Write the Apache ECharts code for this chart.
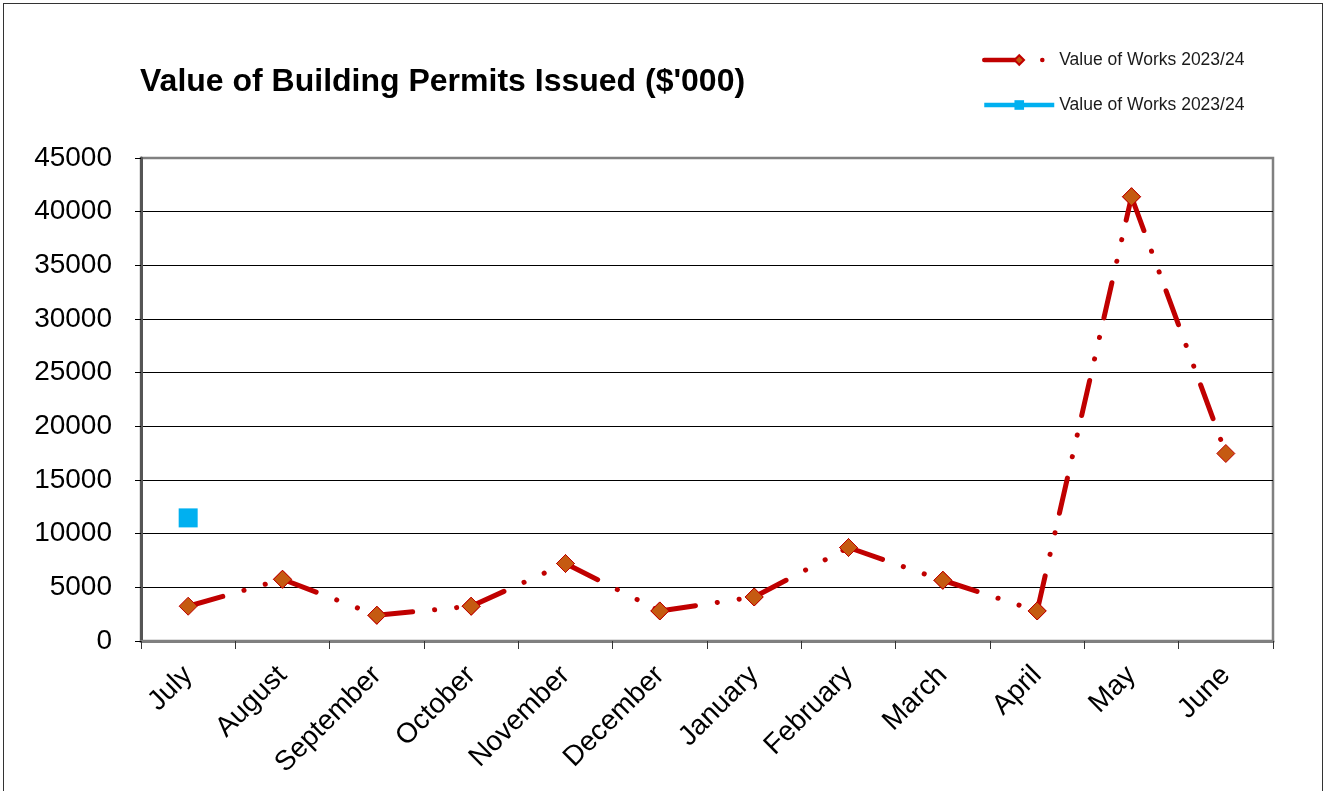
<!DOCTYPE html>
<html>
<head>
<meta charset="utf-8">
<title>Value of Building Permits Issued</title>
<script src="https://cdn.jsdelivr.net/npm/echarts@6/dist/echarts.min.js"></script>
<style>
  html, body { margin: 0; padding: 0; background: #fff; }
  #frame { position: absolute; left: 3px; top: 3px; width: 1320px; height: 820px; border: 1px solid #333; box-sizing: border-box; }
  #chart { position: absolute; left: 0; top: 0; width: 1326px; height: 791px; }
</style>
</head>
<body>
<div id="frame"></div>
<div id="chart"></div>
<script>
// Monthly value of works for building permits, $'000
const MONTHS = ['July', 'August', 'September', 'October', 'November', 'December',
                'January', 'February', 'March', 'April', 'May', 'June'];
const WORKS = [3240, 5750, 2400, 3240, 7220, 2800, 4100, 8710, 5660, 2800, 41390, 17470];
// Single reading plotted as a square marker (July only)
const WORKS_MARK = [11470, '-', '-', '-', '-', '-', '-', '-', '-', '-', '-', '-'];
const LEGEND_LABELS = ['Value of Works 2023/24', 'Value of Works 2023/24'];
const Y_MIN = 0, Y_MAX = 45000, Y_STEP = 5000;
const TITLE = "Value of Building Permits Issued ($'000)";

const FONT = "'Liberation Sans', Arial, sans-serif";
const RED = '#C00000';
const ORANGE = '#C55A11';
const BLUE = '#00B0F0';

// Each month-to-month segment is its own series so the dash-dot pattern
// restarts at every data point.
const segmentSeries = [];
for (let i = 0; i < WORKS.length - 1; i++) {
  segmentSeries.push({
    type: 'line',
    name: 'works',
    data: MONTHS.map((m, j) => (j === i || j === i + 1) ? WORKS[j] : '-'),
    symbol: 'diamond',
    symbolSize: 18,
    showSymbol: true,
    itemStyle: { color: ORANGE, borderColor: RED, borderWidth: 1 },
    lineStyle: { color: RED, width: 5, type: [36, 22, 0.1, 22, 0.1, 20], cap: 'round' },
    emphasis: { disabled: true },
    z: 3
  });
}

const markSeries = {
  type: 'line',
  name: 'worksMark',
  data: WORKS_MARK,
  symbol: 'rect',
  symbolSize: 19,
  showSymbol: true,
  itemStyle: { color: BLUE },
  lineStyle: { color: BLUE, width: 5 },
  emphasis: { disabled: true },
  z: 4
};

const legendBase = {
  left: 977,
  orient: 'vertical',
  itemWidth: 70,
  itemHeight: 12,
  selectedMode: false,
  lineStyle: { width: 4.5 },
  textStyle: { fontSize: 17.5, color: '#1a1a1a', fontFamily: FONT }
};

const chart = echarts.init(document.getElementById('chart'), null, { renderer: 'canvas' });
chart.setOption({
  animation: false,
  backgroundColor: 'transparent',
  title: {
    text: TITLE,
    left: 135,
    top: 61,
    textStyle: { fontSize: 32, fontWeight: 'bold', color: '#000', fontFamily: FONT }
  },
  legend: [
    Object.assign({}, legendBase, { top: 46, data: ['works'], formatter: () => LEGEND_LABELS[0] }),
    Object.assign({}, legendBase, { top: 91, data: ['worksMark'], formatter: () => LEGEND_LABELS[1] })
  ],
  grid: {
    left: 141, right: 53, top: 158, bottom: 150,
    show: true, borderColor: '#808080', borderWidth: 2.5, backgroundColor: '#fff'
  },
  xAxis: {
    type: 'category',
    data: MONTHS,
    boundaryGap: true,
    axisLine: { lineStyle: { color: '#808080', width: 3 } },
    axisTick: { show: true, length: 8, interval: 0, lineStyle: { color: '#333', width: 1 } },
    axisLabel: { rotate: 45, interval: 0, margin: 30, fontSize: 28, color: '#000', fontFamily: FONT },
    splitLine: { show: false }
  },
  yAxis: {
    type: 'value',
    min: Y_MIN, max: Y_MAX, interval: Y_STEP,
    axisLine: { show: true, lineStyle: { color: '#555', width: 3 } },
    axisTick: { show: true, length: 6, lineStyle: { color: '#000', width: 1 } },
    axisLabel: { margin: 29, fontSize: 28, color: '#000', fontFamily: FONT, formatter: v => String(v) },
    splitLine: { show: true, showMinLine: false, showMaxLine: false, lineStyle: { color: '#000', width: 1 } }
  },
  series: segmentSeries.concat([markSeries])
});
</script>
</body>
</html>
